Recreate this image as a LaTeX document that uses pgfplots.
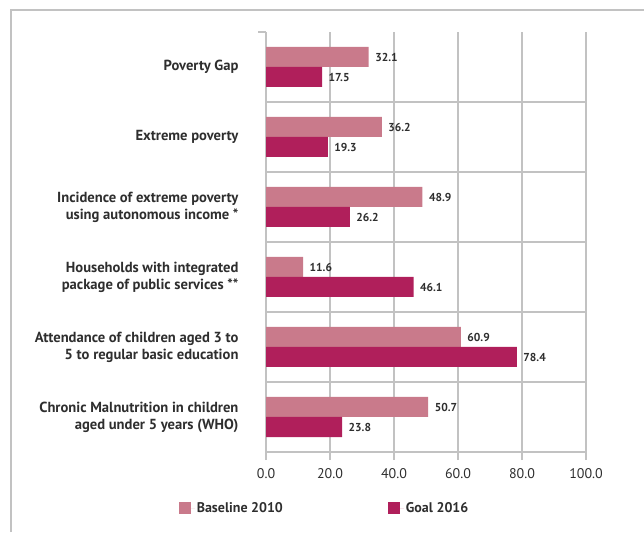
\documentclass[border=0pt]{standalone}
\usepackage{fontspec}
\setmainfont{PT Sans}
\usepackage{pgfplots}
\pgfplotsset{compat=1.18}
\definecolor{base}{HTML}{C97A8B}
\definecolor{goal}{HTML}{B01F5B}
\definecolor{gridc}{HTML}{C2C2C2}
\definecolor{txt}{HTML}{2E2E2E}
\begin{document}
\begin{tikzpicture}[x=1pt,y=1pt]
\path[use as bounding box] (0,0) rectangle (644,532);
\draw[gridc, line width=1.5pt] (11,0) -- (11,522) -- (644,522);
\begin{axis}[
  at={(266pt,80pt)}, anchor=south west,
  scale only axis, width=320pt, height=420pt,
  xbar, bar width=20pt,
  xmin=0, xmax=100, ymin=-0.5, ymax=5.5,
  axis line style={draw=none},
  xtick={0,20,...,100},
  xtick pos=bottom, ytick pos=left,
  tick align=outside,
  xmajorgrids, 
  grid style={gridc, line width=1.3pt},
  minor grid style={gridc, line width=1.3pt},
  major tick style={gridc, line width=1.3pt},
  minor tick style={gridc, line width=1.3pt},
  xticklabel style={/pgf/number format/fixed, /pgf/number format/fixed zerofill, /pgf/number format/precision=1, /pgf/number format/assume math mode=true, font=\fontsize{14}{16}\selectfont, text=txt, yshift=-5pt},
  major tick length=8pt, minor tick length=8pt,
  ytick={0,1,2,3,4,5},
  yticklabels={{Chronic Malnutrition in children\\aged under 5 years (WHO)},
    {Attendance of children aged 3 to\\5 to regular basic education},
    {Households with integrated\\package of public services **},
    {Incidence of extreme poverty\\using autonomous income *},
    {Extreme poverty},
    {Poverty Gap}},
  y tick style={draw=none},
  yticklabel style={align=right, font=\bfseries\fontsize{14.6}{17}\selectfont, text=txt, xshift=-16pt},
  minor ytick={-0.5,0.5,1.5,2.5,3.5,4.5},
  yminorgrids,
  extra y ticks={5.5},
  extra y tick labels={},
  extra y tick style={grid=none, y tick style={draw=gridc, line width=1.3pt}},
  point meta=explicit symbolic,
  nodes near coords,
  nodes near coords style={font=\bfseries\fontsize{11.5}{12}\selectfont, text=txt, anchor=west, xshift=3pt},
  legend style={at={(0.183,-0.134)}, anchor=center, draw=none, fill=none,
    font=\bfseries\fontsize{14}{16}\selectfont, text=txt,
    legend columns=2, /tikz/every even column/.append style={column sep=103pt}},
  legend image code/.code={\fill[#1] (0pt,-6pt) rectangle (12pt,6pt); \path (12pt,0pt) -- (16pt,0pt);},
]
\addplot[fill=base, draw=none, bar shift=10pt] coordinates {
  (50.7,0) [50.7] (60.9,1) [60.9] (11.6,2) [11.6] (48.9,3) [48.9] (36.2,4) [36.2] (32.1,5) [32.1]};
\addplot[fill=goal, draw=none, bar shift=-10pt] coordinates {
  (23.8,0) [23.8] (78.4,1) [78.4] (46.1,2) [46.1] (26.2,3) [26.2] (19.3,4) [19.3] (17.5,5) [17.5]};
\legend{Baseline 2010, Goal 2016}
\end{axis}
\end{tikzpicture}
\end{document}
